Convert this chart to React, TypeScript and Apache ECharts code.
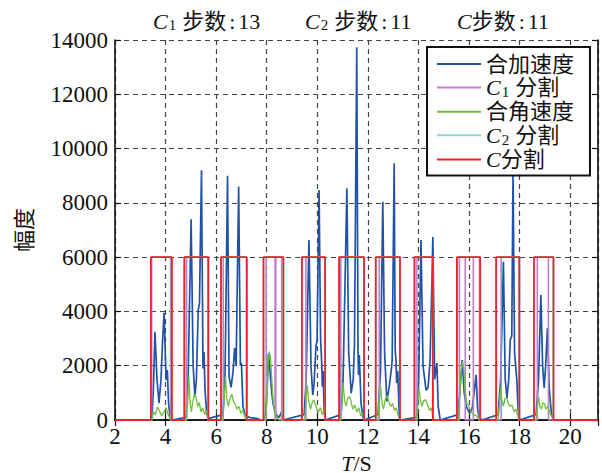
import { useEffect, useRef } from "react";
import * as echarts from "echarts";

// ---------- data ----------
const X_MIN = 2;
const X_MAX = 21.1;
const X_INTERVAL = 2;
const Y_MIN = 0;
const Y_MAX = 14000;
const Y_INTERVAL = 2000;
const SEG_LEVEL = 6000;

const seriesNames = ["合加速度", "C1分割", "合角速度", "C2分割", "C分割"];

// resultant acceleration [t, amplitude]
const accel: [number, number][] = [
  [2, 0], [3.42, 0], [3.46, 0], [3.52, 1200], [3.58, 3250], [3.66, 1500], [3.74, 620], [3.82, 1500],
  [3.88, 2900], [3.94, 3950], [4.02, 1470], [4.07, 1840], [4.12, 600], [4.18, 100], [4.25, 0],
  [4.81, 100], [4.89, 1500], [5.01, 7400], [5.09, 2000], [5.16, 860], [5.22, 1500], [5.29, 4050],
  [5.34, 4300], [5.42, 9200], [5.48, 1900], [5.52, 2500], [5.56, 1100], [5.62, 300], [5.68, 50],
  [6.27, 200], [6.35, 1500], [6.45, 9000], [6.51, 1600], [6.59, 1200], [6.67, 1800], [6.73, 2650],
  [6.79, 2000], [6.89, 8600], [6.96, 2000], [7.0, 2100], [7.06, 500], [7.14, 200], [7.3, 100],
  [7.66, 50], [7.74, 0],
  [7.93, 0], [8.01, 1000], [8.07, 2450], [8.13, 1800], [8.2, 1000], [8.25, 600], [8.37, 200],
  [8.49, 100], [8.59, 300], [8.65, 0],
  [9.48, 200], [9.56, 1500], [9.67, 6630], [9.75, 2000], [9.82, 920], [9.87, 1300], [9.95, 2760],
  [9.99, 2900], [10.07, 8470], [10.13, 3000], [10.18, 1965], [10.2, 1230], [10.23, 1800],
  [10.27, 400], [10.31, 0],
  [10.94, 200], [11.02, 1500], [11.17, 8540], [11.24, 2500], [11.34, 990], [11.42, 1500],
  [11.47, 2800], [11.56, 13730], [11.61, 2500], [11.63, 1660], [11.66, 2390], [11.73, 600],
  [11.81, 100], [11.86, 0],
  [12.4, 200], [12.5, 1800], [12.59, 8040], [12.66, 2500], [12.75, 680], [12.84, 1200],
  [12.92, 1800], [12.96, 2200], [13.04, 9460], [13.08, 2600], [13.11, 2210], [13.14, 1360],
  [13.18, 1800], [13.24, 200], [13.28, 0],
  [13.93, 100], [14.01, 1500], [14.1, 6630], [14.18, 2000], [14.3, 1100], [14.38, 1200],
  [14.46, 2200], [14.57, 6740], [14.64, 1500], [14.73, 2100], [14.78, 500], [14.86, 0],
  [15.57, 200], [15.65, 1200], [15.73, 2210], [15.81, 1000], [15.89, 500], [16.02, 260],
  [16.12, 400], [16.2, 1000], [16.28, 1660], [16.34, 400], [16.4, 100], [16.52, 0],
  [17.15, 200], [17.25, 1500], [17.36, 5830], [17.43, 1500], [17.5, 810], [17.57, 1500],
  [17.63, 2950], [17.69, 3100], [17.74, 9100], [17.8, 2500], [17.89, 1470], [17.94, 400],
  [17.99, 0],
  [18.65, 200], [18.75, 1500], [18.84, 4600], [18.91, 2000], [18.97, 1180], [19.03, 2000],
  [19.1, 3380], [19.17, 1200], [19.25, 300], [19.33, 0], [21.1, 0],
];

// resultant angular velocity [t, amplitude]
const angular: [number, number][] = [
  [2, 0], [3.46, 0], [3.52, 300], [3.6, 200], [3.68, 480], [3.76, 350], [3.84, 150], [3.94, 300],
  [4.02, 450], [4.1, 200], [4.2, 0],
  [4.83, 0], [4.88, 800], [4.92, 1600], [4.97, 600], [5.02, 300], [5.08, 700], [5.14, 950],
  [5.2, 850], [5.27, 500], [5.33, 650], [5.4, 300], [5.47, 450], [5.55, 200], [5.62, 350], [5.68, 0],
  [6.27, 0], [6.32, 900], [6.37, 1600], [6.42, 800], [6.48, 500], [6.55, 800], [6.62, 950],
  [6.68, 700], [6.75, 600], [6.82, 400], [6.9, 500], [6.98, 250], [7.06, 350], [7.14, 100], [7.2, 0],
  [7.95, 0], [8.0, 600], [8.05, 2000], [8.1, 2520], [8.15, 2300], [8.2, 1500], [8.26, 600],
  [8.32, 200], [8.4, 100], [8.5, 0],
  [9.5, 0], [9.55, 700], [9.6, 1290], [9.66, 700], [9.73, 400], [9.8, 650], [9.86, 740],
  [9.92, 600], [9.98, 400], [10.05, 300], [10.12, 450], [10.2, 200], [10.26, 350], [10.3, 0],
  [10.93, 0], [10.98, 700], [11.02, 1360], [11.08, 700], [11.14, 500], [11.2, 800], [11.27, 860],
  [11.33, 700], [11.4, 400], [11.48, 550], [11.56, 300], [11.64, 450], [11.72, 150], [11.8, 250],
  [11.85, 0],
  [12.4, 0], [12.45, 700], [12.5, 1250], [12.56, 600], [12.62, 400], [12.68, 750], [12.75, 900],
  [12.82, 700], [12.9, 500], [12.98, 600], [13.05, 350], [13.12, 450], [13.2, 150], [13.26, 0],
  [13.93, 0], [13.98, 700], [14.02, 1170], [14.08, 700], [14.14, 500], [14.2, 700], [14.28, 750],
  [14.36, 550], [14.44, 350], [14.5, 450], [14.56, 200], [14.6, 0],
  [15.58, 0], [15.64, 1000], [15.7, 1900], [15.74, 2150], [15.8, 1800], [15.86, 1000],
  [15.92, 600], [16.0, 500], [16.08, 300], [16.18, 200], [16.3, 150], [16.4, 0],
  [17.15, 0], [17.2, 600], [17.25, 1180], [17.3, 700], [17.36, 500], [17.42, 800], [17.5, 800],
  [17.56, 600], [17.62, 500], [17.7, 550], [17.78, 300], [17.86, 400], [17.94, 100], [17.99, 0],
  [18.65, 0], [18.7, 500], [18.75, 860], [18.8, 500], [18.86, 400], [18.92, 630], [18.98, 600],
  [19.04, 400], [19.12, 500], [19.2, 250], [19.28, 100], [19.34, 0], [21.1, 0],
];

// segmentation windows [start, end]
const segC1: [number, number][] = [
  [3.45, 4.2], [4.83, 5.69], [6.28, 7.21], [7.98, 8.33], [8.36, 8.59], [9.55, 10.3],
  [10.93, 11.85], [12.45, 13.27], [13.94, 14.57], [15.62, 15.85], [16.17, 16.41],
  [17.27, 17.99], [18.7, 19.14],
];
const segC2: [number, number][] = [
  [3.43, 4.24], [4.75, 5.68], [6.2, 7.2], [7.88, 8.65], [9.4, 10.3], [10.87, 11.84],
  [12.32, 13.26], [13.85, 14.56], [15.53, 16.43], [17.08, 17.98], [18.58, 19.33],
];
const segC: [number, number][] = [
  [3.42, 4.25], [4.74, 5.69], [6.19, 7.21], [7.87, 8.66], [9.39, 10.31], [10.86, 11.85],
  [12.31, 13.27], [13.84, 14.57], [15.52, 16.44], [17.07, 17.99], [18.57, 19.34],
];

const stepTitles = [
  { sub: "1", steps: 13 },
  { sub: "2", steps: 11 },
  { sub: "", steps: 11 },
];

// ---------- styling ----------
const SERIF = "Liberation Serif, Noto Sans CJK SC, serif";
const COLORS = {
  accel: "#2152a8",
  c1: "#bb80c8",
  angular: "#6cbf3f",
  c2: "#86d6de",
  c: "#e6252b",
};

function stepLine(segs: [number, number][]): [number, number][] {
  const pts: [number, number][] = [[X_MIN, 0]];
  for (const [a, b] of segs) {
    pts.push([a, 0], [a, SEG_LEVEL], [b, SEG_LEVEL], [b, 0]);
  }
  pts.push([X_MAX, 0]);
  return pts;
}

const richBase = {
  i: { fontFamily: SERIF, fontStyle: "italic", fontWeight: "normal", fontSize: 22, lineHeight: 24, color: "#111" },
  t: { fontFamily: SERIF, fontWeight: "normal", fontSize: 22, lineHeight: 24, color: "#111" },
  sub: { fontFamily: SERIF, fontWeight: "normal", fontSize: 15, lineHeight: 14, verticalAlign: "bottom", color: "#111", padding: [0, 6, 0, 1] },
  col: { fontFamily: SERIF, fontWeight: "normal", fontSize: 22, lineHeight: 24, color: "#111", padding: [0, 3, 0, 3] },
};

function legendLabel(name: string): string {
  const m = name.match(/^C(\d?)(.*)$/);
  if (m) {
    return m[1] ? `{i|C}{sub|${m[1]}}{t|${m[2]}}` : `{i|C}{t|${m[2]}}`;
  }
  return `{t|${name}}`;
}

export default function App() {
  const ref = useRef<HTMLDivElement>(null);

  useEffect(() => {
    if (!ref.current) return;
    const chart = echarts.init(ref.current, undefined, { renderer: "svg" });

    const titleLefts = [153, 305, 457];
    const title = stepTitles.map((s, k) => ({
      text: s.sub
        ? `{i|C}{sub|${s.sub}}{t|步数}{col|:}{t|${s.steps}}`
        : `{i|C}{t|步数}{col|:}{t|${s.steps}}`,
      left: titleLefts[k],
      top: 9,
      padding: 0,
      textStyle: { rich: richBase, fontFamily: SERIF, fontSize: 22, fontWeight: "normal" },
    }));

    const axisCommonX = {
      type: "value" as const,
      min: X_MIN,
      max: X_MAX,
      interval: X_INTERVAL,
    };
    const axisCommonY = {
      type: "value" as const,
      min: Y_MIN,
      max: Y_MAX,
      interval: Y_INTERVAL,
    };
    const line = { lineStyle: { color: "#111", width: 1.6 } };
    const tick = { show: true, inside: true, length: 6, lineStyle: { color: "#111", width: 1.2 } };
    const split = { show: true, lineStyle: { color: "#444", width: 1.2, type: [5, 4] } };

    chart.setOption({
      animation: false,
      backgroundColor: "#fff",
      title,
      grid: {
        left: 115,
        right: 4,
        top: 40,
        bottom: 53,
        containLabel: false,
        outerBoundsMode: "none",
      },
      legend: {
        orient: "vertical",
        left: 427,
        top: 47,
        backgroundColor: "#fff",
        borderColor: "#111",
        borderWidth: 2,
        borderRadius: 0,
        padding: [6, 16, 5, 10],
        itemGap: 1.4,
        itemWidth: 44,
        itemHeight: 2,
        icon: "rect",
        data: seriesNames,
        formatter: legendLabel,
        textStyle: { fontFamily: SERIF, fontSize: 22, color: "#111", rich: richBase },
      },
      xAxis: [
        {
          ...axisCommonX,
          position: "bottom",
          name: "{i|T}{t|/S}",
          nameLocation: "middle",
          nameGap: 29,
          nameTextStyle: {
            lineHeight: 20,
            rich: {
              i: { fontFamily: SERIF, fontStyle: "italic", fontSize: 22, lineHeight: 20, color: "#111" },
              t: { fontFamily: SERIF, fontSize: 22, lineHeight: 20, color: "#111" },
            },
          },
          axisLine: line,
          axisTick: tick,
          axisLabel: {
            fontFamily: SERIF,
            fontSize: 23,
            color: "#111",
            margin: 5,
            showMaxLabel: false,
            formatter: (v: number) => String(v),
          },
          splitLine: split,
        },
        {
          ...axisCommonX,
          position: "top",
          axisLine: line,
          axisTick: tick,
          axisLabel: { show: false },
          splitLine: { show: false },
        },
      ],
      yAxis: [
        {
          ...axisCommonY,
          position: "left",
          name: "幅度",
          nameLocation: "middle",
          nameGap: 80,
          nameRotate: 90,
          nameTextStyle: { fontFamily: SERIF, fontSize: 22, color: "#111" },
          axisLine: { show: true, ...line },
          axisTick: tick,
          axisLabel: {
            fontFamily: SERIF,
            fontSize: 23,
            color: "#111",
            margin: 7,
            formatter: (v: number) => String(v),
          },
          splitLine: split,
        },
        {
          ...axisCommonY,
          position: "right",
          axisLine: { show: true, ...line },
          axisTick: tick,
          axisLabel: { show: false },
          splitLine: { show: false },
        },
      ],
      series: [
        {
          name: "合加速度",
          type: "line",
          data: accel,
          symbol: "none",
          z: 2,
          lineStyle: { color: COLORS.accel, width: 1.7 },
          itemStyle: { color: COLORS.accel },
        },
        {
          name: "C1分割",
          type: "line",
          data: stepLine(segC1),
          symbol: "none",
          z: 3,
          lineStyle: { color: COLORS.c1, width: 1.6 },
          itemStyle: { color: COLORS.c1 },
        },
        {
          name: "合角速度",
          type: "line",
          data: angular,
          symbol: "none",
          z: 4,
          lineStyle: { color: COLORS.angular, width: 1.3 },
          itemStyle: { color: COLORS.angular },
        },
        {
          name: "C2分割",
          type: "line",
          data: stepLine(segC2),
          symbol: "none",
          z: 5,
          lineStyle: { color: COLORS.c2, width: 1.6 },
          itemStyle: { color: COLORS.c2 },
        },
        {
          name: "C分割",
          type: "line",
          data: stepLine(segC),
          symbol: "none",
          z: 6,
          lineStyle: { color: COLORS.c, width: 1.8 },
          itemStyle: { color: COLORS.c },
        },
      ],
    });

    return () => chart.dispose();
  }, []);

  return (
    <div
      ref={ref}
      style={{ position: "fixed", left: 0, top: 0, width: 602, height: 473, background: "#fff" }}
    />
  );
}
